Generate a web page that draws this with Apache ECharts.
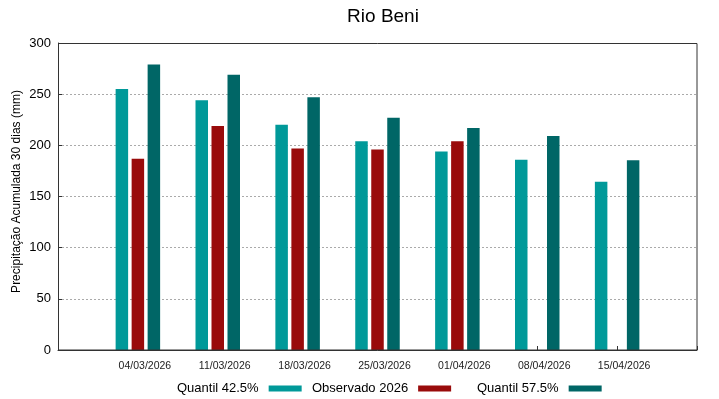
<!DOCTYPE html>
<html>
<head>
<meta charset="utf-8">
<script src="https://cdn.jsdelivr.net/npm/echarts@6/dist/echarts.min.js"></script>
<style>
html, body { margin: 0; padding: 0; background: #fff; }
#chart { width: 719px; height: 399px; }
</style>
</head>
<body>
<div id="chart"></div>
<script>
// datas (first and last slots empty so groups sit on ticks 1..7)
var categories = ['', '04/03/2026', '11/03/2026', '18/03/2026', '25/03/2026', '01/04/2026', '08/04/2026', '15/04/2026', ''];
var quantil425 = [null, 255, 244, 220, 204, 194, 186, 164.5, null];
var observado2026 = [null, 187, 219, 197, 196, 204, null, null, null];
var quantil575 = [null, 279, 269, 247, 227, 217, 209, 185.5, null];
var yTicks = [0, 50, 100, 150, 200, 250, 300];

var font = 'Liberation Sans, Arial, sans-serif';

var chartDom = document.getElementById('chart');
var myChart = echarts.init(chartDom);
var option;

function legendFor(name, left) {
    return {
        data: [name],
        left: left,
        top: 382,
        align: 'right',
        icon: 'rect',
        itemWidth: 33,
        itemHeight: 6,
        padding: 0,
        textStyle: { fontFamily: font, fontSize: 13, color: '#000', padding: [0, 5, 0, 0] }
    };
}

option = {
    animation: false,
    title: {
        text: 'Rio Beni',
        left: 378,
        textAlign: 'center',
        top: 2,
        textStyle: { fontFamily: font, fontSize: 19, fontWeight: 'normal', color: '#000' }
    },
    legend: [
        legendFor('Quantil 42.5%', 177),
        legendFor('Observado 2026', 312),
        legendFor('Quantil 57.5%', 477)
    ],
    grid: { left: 58, right: 22, top: 43, bottom: 49 },
    xAxis: {
        type: 'category',
        data: categories,
        boundaryGap: false,
        axisLine: { show: true, lineStyle: { color: '#333', width: 1 } },
        axisTick: { show: true, inside: true, length: 4, lineStyle: { color: '#333' } },
        axisLabel: {
            interval: 0,
            fontFamily: font,
            fontSize: 10.5,
            color: '#222',
            margin: 11,
            padding: [0, 0, 0, 14]
        },
        splitLine: { show: false }
    },
    yAxis: {
        type: 'value',
        min: yTicks[0],
        max: yTicks[yTicks.length - 1],
        interval: 50,
        name: 'Precipitação Acumulada 30 dias (mm)',
        nameLocation: 'middle',
        nameGap: 35,
        nameMoveOverlap: false,
        nameTextStyle: { fontFamily: font, fontSize: 12, color: '#000', padding: [0, 0, 0, 10] },
        axisLine: { show: true, lineStyle: { color: '#333' } },
        axisTick: { show: true, inside: true, length: 4, lineStyle: { color: '#333' } },
        axisLabel: { fontFamily: font, fontSize: 13, color: '#000', margin: 7 },
        splitLine: { show: true, lineStyle: { color: '#aaa', type: [2, 2], width: 1 } }
    },
    series: [
        {
            name: 'Quantil 42.5%',
            type: 'bar',
            data: quantil425,
            barWidth: 12.5,
            barGap: '28%',
            itemStyle: { color: '#009999' }
        },
        {
            name: 'Observado 2026',
            type: 'bar',
            data: observado2026,
            barWidth: 12.5,
            barGap: '28%',
            itemStyle: { color: '#990b0b' }
        },
        {
            name: 'Quantil 57.5%',
            type: 'bar',
            data: quantil575,
            barWidth: 12.5,
            barGap: '28%',
            itemStyle: { color: '#006666' }
        }
    ],
    graphic: [
        // frame on top and right like the original plot box
        {
            type: 'rect',
            shape: { x: 58.5, y: 43.5, width: 638.5, height: 306.5 },
            style: { fill: 'none', stroke: '#333', lineWidth: 1 },
            silent: true,
            z: 10
        }
    ]
};

option && myChart.setOption(option);
</script>
</body>
</html>
